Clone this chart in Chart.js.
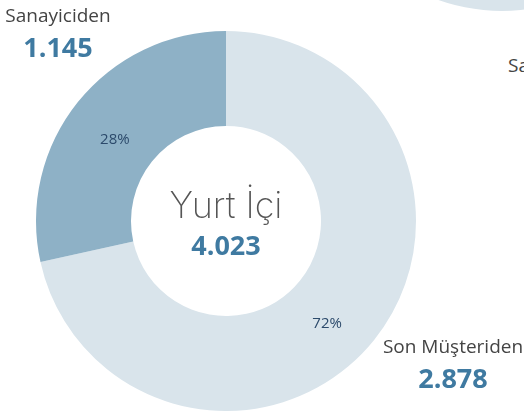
<!DOCTYPE html>
<html lang="tr">
<head>
<meta charset="utf-8">
<script src="https://cdn.jsdelivr.net/npm/chart.js@4"></script>
<style>
  body { margin: 0; background: #fff; }
  #sahne { position: relative; width: 524px; height: 411px; overflow: hidden; font-family: "Open Sans", sans-serif; }
  .kutu { position: absolute; }
  .etiket { position: absolute; text-align: center; color: #444; font-size: 19px; line-height: 1; }
  .etiket b { display: block; color: #3f7aa1; font-size: 27px; font-weight: 700; margin-top: 8px; }
</style>
</head>
<body>
<div id="sahne">
  <div class="kutu" style="left:312px; top:-369px; width:380px; height:380px;"><canvas id="diger"></canvas></div>
  <div class="kutu" style="left:36px; top:31px; width:380px; height:380px;"><canvas id="grafik"></canvas></div>
  <div class="etiket" style="left:0; top:6px; width:116px;">Sanayiciden<b>1.145</b></div>
  <div class="etiket" style="left:380px; top:337px; width:146px;">Son Müşteriden<b>2.878</b></div>
  <div class="etiket" style="left:508px; top:56px; width:120px; text-align:left;">Sanayiciden</div>
</div>
<script>
const kategoriler = ["Son Müşteriden", "Sanayiciden"];
const degerler = [2878, 1145];
const yuzdeler = ["72%", "28%"];
const renkler = ["#d9e4eb", "#8eb1c6"];
const baslik = "Yurt İçi";
const toplam = "4.023";

// kesilmis ikinci grafik (sag ust kose)
const digerDegerler = [1];

const ortaYazi = {
    id: "ortaYazi",
    afterDraw(chart) {
        const ctx = chart.ctx;
        const arcs = chart.getDatasetMeta(0).data;
        const x = arcs[0].x, y = arcs[0].y;
        ctx.save();
        ctx.textAlign = "center";
        ctx.textBaseline = "alphabetic";
        ctx.fillStyle = "#555";
        ctx.font = "200 36px Inter";
        ctx.fillText(baslik, x, y - 3);
        ctx.fillStyle = "#3f7aa1";
        ctx.font = "bold 27px 'Open Sans'";
        ctx.fillText(toplam, x, y + 34);

        ctx.fillStyle = "#2c4a6b";
        ctx.font = "15px 'Open Sans'";
        ctx.textBaseline = "middle";
        arcs.forEach((arc, i) => {
            const p = arc.tooltipPosition();
            ctx.fillText(yuzdeler[i], p.x + (i === 0 ? -10 : 0), p.y + (i === 0 ? 14 : 8));
        });
        ctx.restore();
    }
};

new Chart(document.getElementById("grafik"), {
    type: "doughnut",
    data: {
        labels: kategoriler,
        datasets: [{
            data: degerler,
            backgroundColor: renkler,
            borderWidth: 0
        }]
    },
    options: {
        responsive: true,
        maintainAspectRatio: false,
        animation: false,
        cutout: "50%",
        plugins: { legend: { display: false }, tooltip: { enabled: false } }
    },
    plugins: [ortaYazi]
});

new Chart(document.getElementById("diger"), {
    type: "doughnut",
    data: {
        labels: ["Yurt Dışı"],
        datasets: [{ data: digerDegerler, backgroundColor: [renkler[0]], borderWidth: 0 }]
    },
    options: {
        responsive: true,
        maintainAspectRatio: false,
        animation: false,
        cutout: "50%",
        plugins: { legend: { display: false }, tooltip: { enabled: false } }
    }
});
</script>
</body>
</html>
